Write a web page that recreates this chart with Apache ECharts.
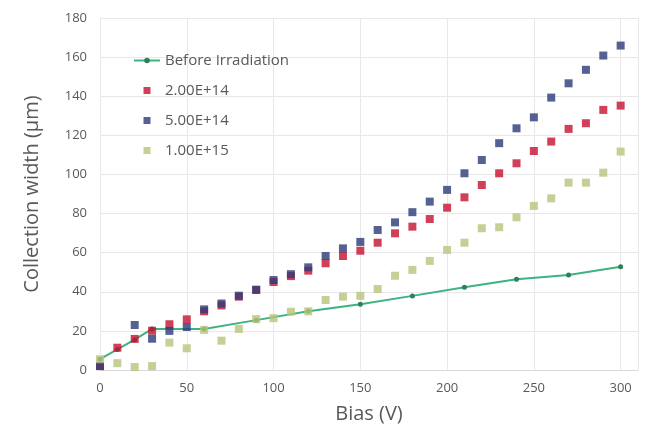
<!DOCTYPE html>
<html>
<head>
<meta charset="utf-8">
<script src="https://cdn.jsdelivr.net/npm/echarts@6/dist/echarts.min.js"></script>
<style>
  html, body { margin: 0; padding: 0; background: #ffffff; }
  #chart { width: 655px; height: 444px; }
</style>
</head>
<body>
<div id="chart"></div>
<script>
// Bias voltage (V) for the irradiated samples
const biasSteps = [0, 10, 20, 30, 40, 50, 60, 70, 80, 90, 100, 110, 120, 130, 140, 150,
  160, 170, 180, 190, 200, 210, 220, 230, 240, 250, 260, 270, 280, 290, 300];

// Collection width (µm) per fluence
const width2e14 = [2, 11.4, 15.9, 20.1, 23.4, 25.9, 30, 33, 37.5, 41, 45, 48, 50.8, 54.6, 58.3, 61,
  65.1, 69.9, 73.3, 77.2, 83, 88.3, 94.6, 100.6, 105.7, 112, 116.8, 123.3, 126.2, 133, 135.2];
const width5e14 = [2, null, 23, 16, 20, 22, 31, 34, 38, 41, 46, 49, 52.5, 58.3, 62.2, 65.5,
  71.6, 75.5, 80.7, 86.1, 92.1, 100.6, 107.4, 116, 123.6, 129.2, 139.3, 146.6, 153.5, 160.8, 165.9];
const width1e15 = [5.5, 3.5, 1.5, 2, 14, 11.1, 20.5, 15, 21, 26, 26.5, 29.8, 30, 35.8, 37.5, 37.9,
  41.4, 48.2, 51.2, 55.8, 61.4, 65.1, 72.5, 73, 78.1, 83.9, 87.8, 95.8, 95.8, 100.9, 111.7];

// Unirradiated reference sample
const biasBefore = [0, 10, 20, 30, 60, 90, 120, 150, 180, 210, 240, 270, 300];
const widthBefore = [5.5, 10.5, 15.5, 21, 21, 25.5, 30, 33.6, 37.9, 42.3, 46.4, 48.6, 52.8];

const seriesNames = ['Before Irradiation', '2.00E+14', '5.00E+14', '1.00E+15'];
const xTicks = { min: 0, max: 310, interval: 50 };
const yTicks = { min: 0, max: 180, interval: 20 };

const pairs = (xs, ys) => xs.map((x, i) => [x, ys[i]]);

const textColor = '#595959';
const fontFamily = '"Open Sans", Lato, sans-serif';
// square legend marker, kept square inside the wider legend slot
const squareIcon = 'path://M0,0H10V10H0Z';

const chart = echarts.init(document.getElementById('chart'), null, { renderer: 'canvas' });

chart.setOption({
  animation: false,
  backgroundColor: '#ffffff',
  textStyle: { fontFamily: fontFamily },
  grid: { left: 100, top: 18, width: 538, height: 352, containLabel: false },
  legend: {
    orient: 'vertical',
    left: 133,
    top: 53,
    padding: 0,
    itemGap: 15,
    itemWidth: 26,
    itemHeight: 7,
    symbolKeepAspect: true,
    textStyle: { color: textColor, fontSize: 15, fontFamily: fontFamily },
    data: [
      { name: seriesNames[0] },
      { name: seriesNames[1], icon: squareIcon },
      { name: seriesNames[2], icon: squareIcon },
      { name: seriesNames[3], icon: squareIcon }
    ]
  },
  xAxis: {
    type: 'value',
    min: xTicks.min,
    max: xTicks.max,
    interval: xTicks.interval,
    name: 'Bias (V)',
    nameLocation: 'middle',
    nameGap: 34,
    nameTextStyle: { color: textColor, fontSize: 20, fontFamily: fontFamily },
    axisLine: { show: true, lineStyle: { color: '#d9d9d9' } },
    axisTick: { show: false },
    axisLabel: {
      color: textColor, fontSize: 13, margin: 12,
      formatter: v => (v > 300 ? '' : String(v))
    },
    splitLine: { show: true, lineStyle: { color: '#e8e8e8' } }
  },
  yAxis: {
    type: 'value',
    min: yTicks.min,
    max: yTicks.max,
    interval: yTicks.interval,
    name: 'Collection width (µm)',
    nameLocation: 'middle',
    nameGap: 58,
    nameTextStyle: { color: textColor, fontSize: 20, fontFamily: fontFamily },
    axisLine: { show: false },
    axisTick: { show: false },
    axisLabel: { color: textColor, fontSize: 13, margin: 13 },
    splitLine: { show: true, lineStyle: { color: '#e8e8e8' } }
  },
  series: [
    {
      name: seriesNames[0],
      type: 'line',
      data: pairs(biasBefore, widthBefore),
      symbol: 'circle',
      symbolSize: 5,
      showSymbol: true,
      lineStyle: { color: '#3db382', width: 2 },
      itemStyle: { color: '#2d7f5e' },
      z: 2
    },
    {
      name: seriesNames[1],
      type: 'scatter',
      data: pairs(biasSteps, width2e14),
      symbol: 'rect',
      symbolSize: 8,
      itemStyle: { color: '#c4122f' },
      z: 3
    },
    {
      name: seriesNames[2],
      type: 'scatter',
      data: pairs(biasSteps, width5e14),
      symbol: 'rect',
      symbolSize: 8,
      itemStyle: { color: '#2c3a78' },
      z: 4
    },
    {
      name: seriesNames[3],
      type: 'scatter',
      data: pairs(biasSteps, width1e15),
      symbol: 'rect',
      symbolSize: 8,
      itemStyle: { color: '#b8c47c' },
      z: 5
    }
  ]
});
</script>
</body>
</html>
